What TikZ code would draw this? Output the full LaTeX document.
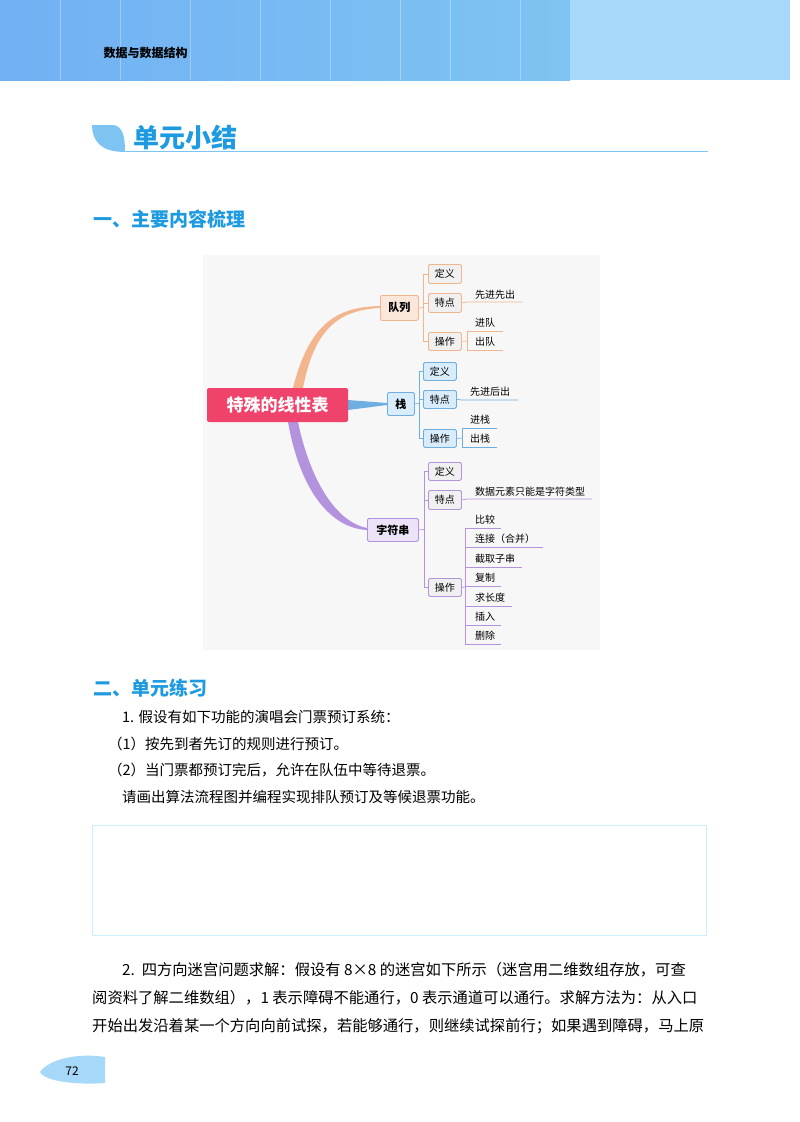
\documentclass[tikz,border=0pt]{standalone}
\usepackage{fontspec}
\setmainfont{Noto Sans CJK SC}
\usetikzlibrary{positioning}
\definecolor{hdr}{HTML}{7EC4F2}
\definecolor{hdrr}{HTML}{A6D8FA}
\definecolor{tblue}{HTML}{1E9BE0}
\definecolor{ofill}{HTML}{FBE6DA}\definecolor{oline}{HTML}{F3B58E}
\definecolor{bfill}{HTML}{D8ECFB}\definecolor{bline}{HTML}{6FAEE0}
\definecolor{pfill}{HTML}{EDE3F8}\definecolor{pline}{HTML}{B493DE}
\definecolor{pinkc}{HTML}{F0436B}
\begin{document}
\begin{tikzpicture}[x=1pt,y=-1pt,
  box/.style={draw=#1,line width=0.8pt,rounded corners=1.5pt,inner sep=0pt,anchor=north west,font=\fontsize{10}{10}\selectfont},
  leaf/.style={anchor=west,inner sep=0pt,font=\fontsize{10}{10}\selectfont},
  br/.style={draw=#1,line width=0.7pt}]
\useasboundingbox (0,0) rectangle (800,1122);
\fill[white] (0,0) rectangle (800,1122);
% header
\shade[left color=hdr!90!blue, right color=hdr] (0,0) rectangle (570,80);
\foreach \x in {60,120,190,260,330,400,450,520} \draw[white,opacity=0.3] (\x,0)--(\x,80);
\fill[hdrr] (570,0) rectangle (790,80);
\node[anchor=west,font=\fontsize{12}{12}\selectfont\bfseries] (hd) at (100,53) {数据与数据结构};
% title
\fill[hdr] (125,152) .. controls (100,152) and (92,140) .. (92,125) -- (112,125) .. controls (122,125) and (125,135) .. (125,152) -- cycle;
\node[anchor=west,text=tblue,font=\fontsize{26}{26}\selectfont\bfseries] (tt) at (130,138) {单元小结};
\draw[hdr,line width=1pt] (125,151)--(708,151);
\node[anchor=west,text=tblue,font=\fontsize{19}{19}\selectfont\bfseries] (s1) at (90,219) {一、主要内容梳理};
% mindmap bg
\fill[black!3] (203,255) rectangle (600,650);
% branches
\fill[oline] (293,388) .. controls (310,320) and (340,307) .. (380,306) -- (380,308) .. controls (342,310) and (315,325) .. (303,388) -- cycle;
\fill[bline] (348,400) -- (387,403) -- (387,405) -- (348,410) -- cycle;
\fill[pline] (288,422) .. controls (300,490) and (330,528) .. (367,530) -- (367,528) .. controls (336,522) and (310,480) .. (298,422) -- cycle;
\node[fill=pinkc,rounded corners=2pt,minimum width=141pt,minimum height=34pt,text=white,font=\fontsize{17}{17}\selectfont\bfseries] (root) at (277.5,405) {特殊的线性表};
% queue
\node[box=oline,fill=ofill,minimum width=38pt,minimum height=25pt,font=\fontsize{11}{11}\selectfont\bfseries] (q) at (380,295) {队列};
\node[box=oline,fill=black!6,minimum width=33pt,minimum height=19pt] (q1) at (428,264) {定义};
\node[box=oline,fill=black!6,minimum width=33pt,minimum height=19pt] (q2) at (428,293) {特点};
\node[box=oline,fill=black!6,minimum width=33pt,minimum height=18pt] (q3) at (428,332) {操作};
\draw[br=oline] (q.east)--(423,307.5); \draw[br=oline] (423,273.5)--(423,341);
\foreach \n in {q1,q2,q3} \draw[br=oline] (423,0 |- \n.west)--(\n.west);
\node[leaf] (q21) at (475,295) {先进先出}; \draw[br=oline] (q2.east)--(467,302)--(523,302);
\node[leaf] (q31) at (475,323) {进队}; \node[leaf] (q32) at (475,342) {出队};
\draw[br=oline] (q3.east)--(467,341); \draw[br=oline] (467,331)--(467,350)--(503,350); \draw[br=oline](467,331)--(503,331);
% stack
\node[box=bline,fill=bfill,minimum width=27pt,minimum height=23pt,font=\fontsize{11}{11}\selectfont\bfseries] (s) at (387,392) {栈};
\node[box=bline,fill=bfill,minimum width=33pt,minimum height=18pt] (s1n) at (423,362) {定义};
\node[box=bline,fill=bfill,minimum width=33pt,minimum height=18pt] (s2) at (423,390) {特点};
\node[box=bline,fill=bfill,minimum width=33pt,minimum height=18pt] (s3) at (423,429) {操作};
\draw[br=bline] (s.east)--(419,403.5); \draw[br=bline] (419,371)--(419,438);
\foreach \n in {s1n,s2,s3} \draw[br=bline] (419,0 |- \n.west)--(\n.west);
\node[leaf] (s21) at (470,392) {先进后出}; \draw[br=bline] (s2.east)--(462,400)--(518,400);
\node[leaf] (s31) at (470,420) {进栈}; \node[leaf] (s32) at (470,439) {出栈};
\draw[br=bline] (s3.east)--(462,438); \draw[br=bline] (462,428)--(462,447)--(497,447); \draw[br=bline](462,428)--(497,428);
% string
\node[box=pline,fill=pfill,minimum width=51pt,minimum height=23pt,font=\fontsize{11}{11}\selectfont\bfseries] (c) at (367,518) {字符串};
\node[box=pline,fill=black!6,minimum width=33pt,minimum height=18pt] (c1) at (428,462) {定义};
\node[box=pline,fill=black!6,minimum width=33pt,minimum height=19pt] (c2) at (428,490) {特点};
\node[box=pline,fill=black!6,minimum width=33pt,minimum height=18pt] (c3) at (428,578) {操作};
\draw[br=pline] (c.east)--(424,529.5); \draw[br=pline] (424,471)--(424,587);
\foreach \n in {c1,c2,c3} \draw[br=pline] (424,0 |- \n.west)--(\n.west);
\node[leaf] (c21) at (475,492) {数据元素只能是字符类型}; \draw[br=pline] (c2.east)--(467,499)--(592,499);
\draw[br=pline] (c3.east)--(465,587); \draw[br=pline] (465,528)--(465,644);
\foreach \t/\y/\e [count=\i] in {比较/520/501,连接（合并）/539/543,截取子串/559/522,复制/578/501,求长度/598/512,插入/617/501,删除/636/501}{
  \node[leaf] (op\i) at (475,\y) {\t}; \draw[br=pline] (465,\y+8)--(\e,\y+8);}
% section 2
\node[anchor=west,text=tblue,font=\fontsize{19}{19}\selectfont\bfseries] (s2h) at (90,688) {二、单元练习};
\begin{scope}[every node/.style={anchor=west,inner sep=0pt,font=\fontsize{14.5}{14}\selectfont}]
\node (l1) at (122,717) {1. 假设有如下功能的演唱会门票预订系统：};
\node (l2) at (108,744) {（1）按先到者先订的规则进行预订。};
\node (l3) at (108,770) {（2）当门票都预订完后，允许在队伍中等待退票。};
\node (l4) at (122,797) {请画出算法流程图并编程实现排队预订及等候退票功能。};
\end{scope}
\node[draw=cyan!20,line width=1pt,minimum width=614pt,minimum height=110pt,anchor=north west,inner sep=0pt] (ans) at (92,825) {};
\begin{scope}[every node/.style={anchor=west,inner sep=0pt,font=\fontsize{15.3}{14}\selectfont}]
\node (p1) at (122,970) {2.\ \ 四方向迷宫问题求解：假设有 8×8 的迷宫如下所示（迷宫用二维数组存放，可查};
\node (p2) at (92,998) {阅资料了解二维数组），1 表示障碍不能通行，0 表示通道可以通行。求解方法为：从入口};
\node (p3) at (92,1026) {开始出发沿着某一个方向向前试探，若能够通行，则继续试探前行；如果遇到障碍，马上原};
\end{scope}
\fill[hdrr] (105,1057) .. controls (80,1053) and (50,1058) .. (40,1072) .. controls (45,1082) and (80,1085) .. (105,1083) -- cycle;
\node[font=\fontsize{12}{12}\selectfont] (pg) at (72,1071) {72};
\end{tikzpicture}
\end{document}
